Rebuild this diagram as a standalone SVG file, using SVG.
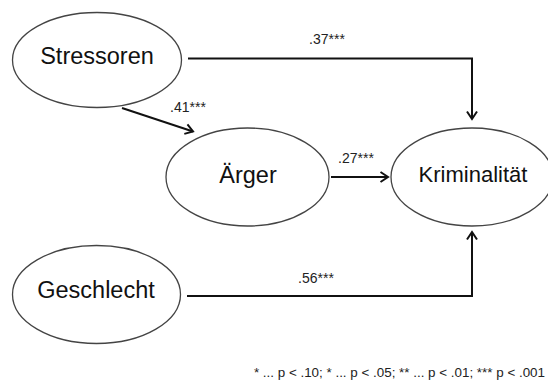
<svg xmlns="http://www.w3.org/2000/svg" width="548" height="383" viewBox="0 0 548 383">
<style>
.node ellipse{fill:#fff;stroke:#444;stroke-width:1.3}
.node text{font-family:"Liberation Sans",Arial,sans-serif;font-size:23.5px;fill:#111;text-anchor:middle}
.edge{fill:none;stroke:#111;stroke-width:2;marker-end:url(#arr)}
.lbl{font-family:"Liberation Sans",Arial,sans-serif;font-size:14px;fill:#222;text-anchor:middle}
.note{font-family:"Liberation Sans",Arial,sans-serif;font-size:13.4px;fill:#222;text-anchor:end}
</style>
<defs>
<marker id="arr" markerUnits="userSpaceOnUse" markerWidth="14" markerHeight="14" viewBox="-10 -7 14 14" refX="0" refY="0" orient="auto">
<path d="M-7.5,-5 L0,0 L-7.5,5" fill="none" stroke="#111" stroke-width="2" stroke-linejoin="miter"/>
</marker>
</defs>
<rect width="548" height="383" fill="#fff"/>
<g id="connectors">
<path class="edge" d="M188,58.5 H472 V119"/>
<path class="edge" d="M122,108 L193,131.5"/>
<path class="edge" d="M331,177 H388"/>
<path class="edge" d="M187,296 H472 V232"/>
<text class="lbl" x="327" y="44">.37***</text>
<text class="lbl" x="188" y="112">.41***</text>
<text class="lbl" x="356" y="163">.27***</text>
<text class="lbl" x="316" y="283">.56***</text>
</g>
<g id="stressoren" class="node">
<ellipse cx="97" cy="60" rx="84.5" ry="47.5"/>
<text x="97" y="63.5">Stressoren</text>
</g>
<g id="aerger" class="node">
<ellipse cx="247.5" cy="177" rx="81.5" ry="49"/>
<text x="248" y="182.5">Ärger</text>
</g>
<g id="kriminalitaet" class="node">
<ellipse cx="472" cy="177" rx="81" ry="49"/>
<text x="473" y="182" style="font-size:22px">Kriminalität</text>
</g>
<g id="geschlecht" class="node">
<ellipse cx="96.5" cy="294.5" rx="84" ry="49"/>
<text x="96" y="297.5">Geschlecht</text>
</g>
<text class="note" x="545" y="377">* ... p &lt; .10; * ... p &lt; .05; ** ... p &lt; .01; *** p &lt; .001</text>
</svg>
